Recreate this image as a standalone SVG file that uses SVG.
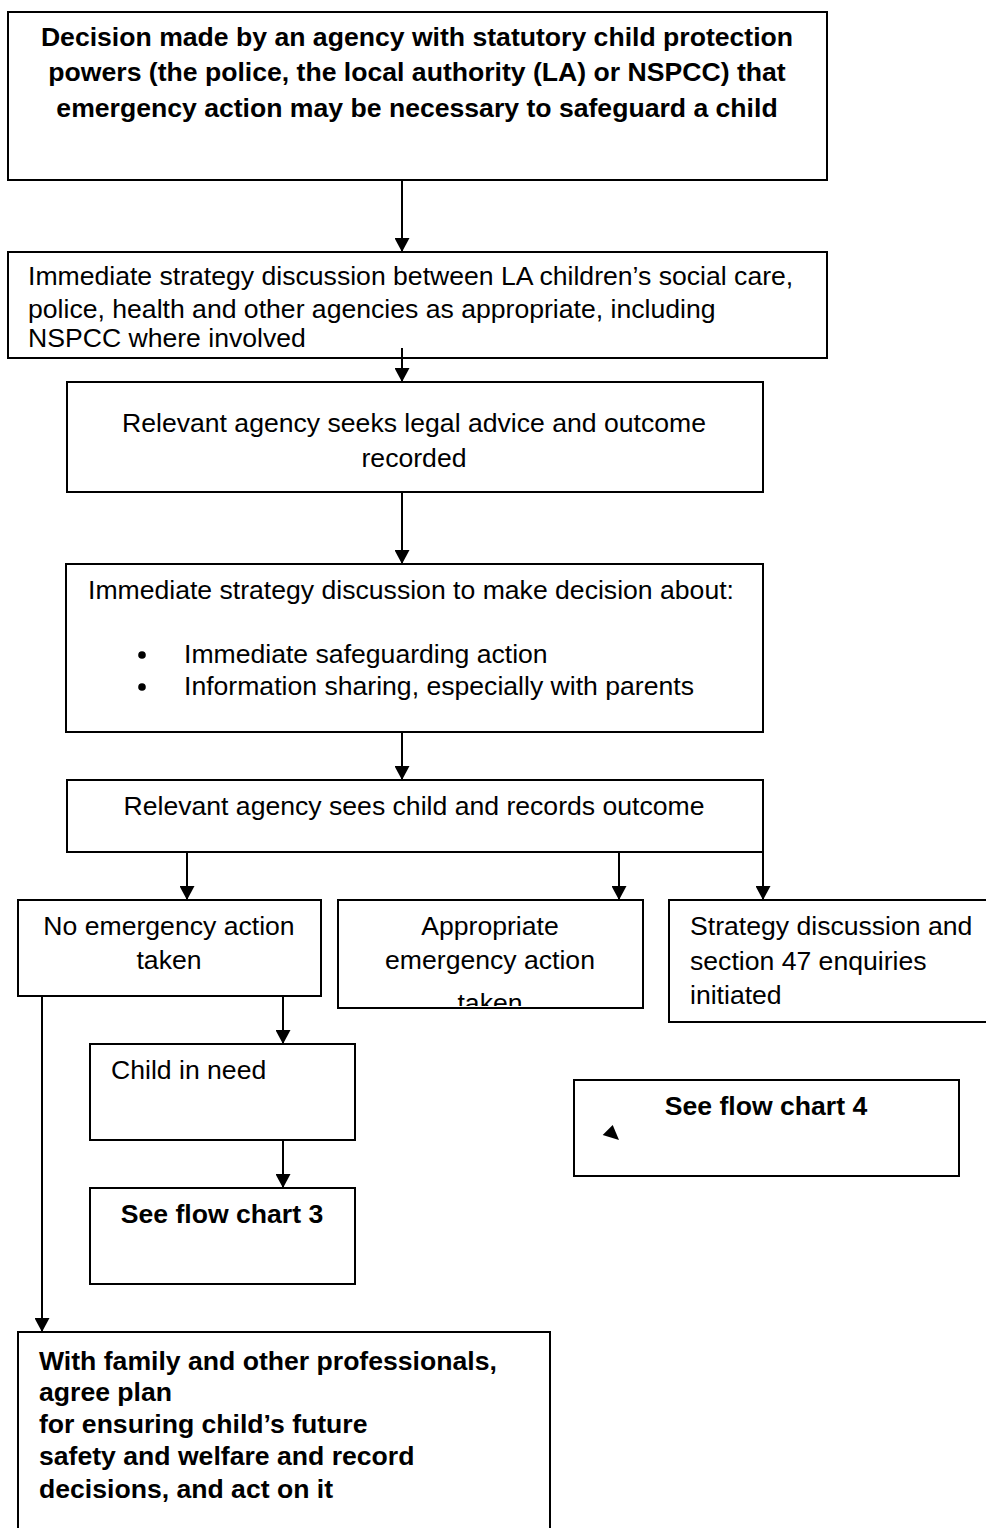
<svg xmlns="http://www.w3.org/2000/svg" width="986" height="1528" viewBox="0 0 986 1528">
  <defs>
    <style>
      .box { fill: #ffffff; stroke: #000000; stroke-width: 2; }
      .link { fill: none; stroke: #000000; stroke-width: 2; }
      text { font-family: "Liberation Sans", Arial, Helvetica, sans-serif; font-size: 26.6px; fill: #000000; }
      .b { font-weight: bold; }
      .c { text-anchor: middle; }
    </style>
    <marker id="arrow" viewBox="0 0 14 15" markerWidth="14" markerHeight="15" refX="14" refY="7.5" orient="auto" markerUnits="userSpaceOnUse">
      <path d="M0,0 L14,7.5 L0,15 z" fill="#000000"/>
    </marker>
    <clipPath id="clip-emergency">
      <rect x="339" y="901" width="303" height="105"/>
    </clipPath>
  </defs>

  <!-- Nodes -->
  <g id="decision">
    <rect class="box" x="8" y="12" width="819" height="168"/>
    <text class="b c" x="417" y="46">Decision made by an agency with statutory child protection</text>
    <text class="b c" x="417" y="81">powers (the police, the local authority (LA) or NSPCC) that</text>
    <text class="b c" x="417" y="117">emergency action may be necessary to safeguard a child</text>
  </g>

  <g id="strategy-immediate">
    <rect class="box" x="8" y="252" width="819" height="106"/>
    <text x="28" y="285">Immediate strategy discussion between LA children’s social care,</text>
    <text x="28" y="318">police, health and other agencies as appropriate, including</text>
    <text x="28" y="347">NSPCC where involved</text>
  </g>

  <g id="legal-advice">
    <rect class="box" x="67" y="382" width="696" height="110"/>
    <text class="c" x="414" y="432">Relevant agency seeks legal advice and outcome</text>
    <text class="c" x="414" y="467">recorded</text>
  </g>

  <g id="strategy-decision">
    <rect class="box" x="66" y="564" width="697" height="168"/>
    <text x="88" y="599">Immediate strategy discussion to make decision about:</text>
    <circle cx="142" cy="655" r="3.8" fill="#000000"/>
    <text x="184" y="663">Immediate safeguarding action</text>
    <circle cx="142" cy="687" r="3.8" fill="#000000"/>
    <text x="184" y="695">Information sharing, especially with parents</text>
  </g>

  <g id="sees-child">
    <rect class="box" x="67" y="780" width="696" height="72"/>
    <text class="c" x="414" y="815">Relevant agency sees child and records outcome</text>
  </g>

  <g id="no-action">
    <rect class="box" x="18" y="900" width="303" height="96"/>
    <text class="c" x="169" y="935">No emergency action</text>
    <text class="c" x="169" y="969">taken</text>
  </g>

  <g id="emergency-action">
    <rect class="box" x="338" y="900" width="305" height="108"/>
    <g clip-path="url(#clip-emergency)">
      <text class="c" x="490" y="935">Appropriate</text>
      <text class="c" x="490" y="969">emergency action</text>
      <text class="c" x="490" y="1012">taken</text>
    </g>
  </g>

  <g id="section-47">
    <rect class="box" x="669" y="900" width="330" height="122"/>
    <text x="690" y="935">Strategy discussion and</text>
    <text x="690" y="970">section 47 enquiries</text>
    <text x="690" y="1004">initiated</text>
  </g>

  <g id="child-in-need">
    <rect class="box" x="90" y="1044" width="265" height="96"/>
    <text x="111" y="1079">Child in need</text>
  </g>

  <g id="flow-chart-3">
    <rect class="box" x="90" y="1188" width="265" height="96"/>
    <text class="b c" x="222" y="1223">See flow chart 3</text>
  </g>

  <g id="flow-chart-4">
    <rect class="box" x="574" y="1080" width="385" height="96"/>
    <text class="b c" x="766" y="1115">See flow chart 4</text>
    <path d="M612.7,1125 L602.7,1135 L619,1140 z" fill="#000000"/>
  </g>

  <g id="agree-plan">
    <rect class="box" x="18" y="1332" width="532" height="210"/>
    <text class="b" x="39" y="1370">With family and other professionals,</text>
    <text class="b" x="39" y="1401">agree plan</text>
    <text class="b" x="39" y="1433">for ensuring child’s future</text>
    <text class="b" x="39" y="1465">safety and welfare and record</text>
    <text class="b" x="39" y="1498">decisions, and act on it</text>
  </g>

  <!-- Connectors -->
  <g id="connectors">
    <line class="link" x1="402" y1="180" x2="402" y2="252" marker-end="url(#arrow)"/>
    <line class="link" x1="402" y1="348" x2="402" y2="382" marker-end="url(#arrow)"/>
    <line class="link" x1="402" y1="492" x2="402" y2="564" marker-end="url(#arrow)"/>
    <line class="link" x1="402" y1="732" x2="402" y2="780" marker-end="url(#arrow)"/>
    <line class="link" x1="187" y1="852" x2="187" y2="900" marker-end="url(#arrow)"/>
    <line class="link" x1="619" y1="852" x2="619" y2="900" marker-end="url(#arrow)"/>
    <line class="link" x1="763" y1="852" x2="763" y2="900" marker-end="url(#arrow)"/>
    <line class="link" x1="42" y1="996" x2="42" y2="1332" marker-end="url(#arrow)"/>
    <line class="link" x1="283" y1="996" x2="283" y2="1044" marker-end="url(#arrow)"/>
    <line class="link" x1="283" y1="1140" x2="283" y2="1188" marker-end="url(#arrow)"/>
  </g>
</svg>
